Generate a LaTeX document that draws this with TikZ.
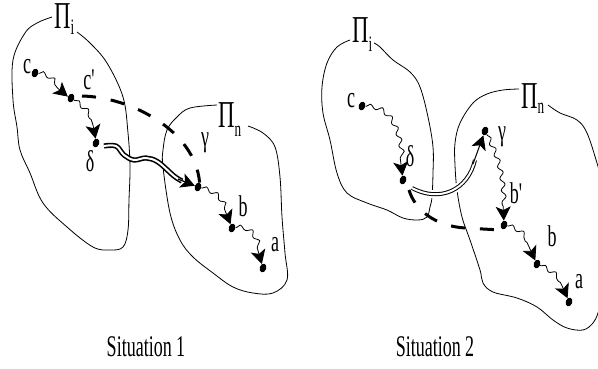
\documentclass[tikz,border=0pt]{standalone}
\usepackage{fontspec}
\setmainfont{Liberation Serif}[FakeStretch=0.6]
\usetikzlibrary{arrows.meta,decorations.pathmorphing,shapes.geometric}
\tikzset{
  arrhd/.style={-{Stealth[length=14pt,width=15pt,inset=3.5pt]}},
}
\begin{document}
\begin{tikzpicture}[x=1pt,y=-1pt,
  blob/.style={line width=0.8pt},
  dotn/.style={ellipse, fill, inner sep=0pt, minimum width=6.5pt, minimum height=9pt},
  wavy/.style={line width=0.8pt, arrhd, decorate,
    decoration={snake, amplitude=2.2pt, segment length=12pt, pre length=1pt, post length=14pt}},
  dashline/.style={line width=3pt, dash pattern=on 14pt off 15pt},
  dbla/.style={double, double distance=2pt, line width=1.6pt},
  dblb/.style={double, double distance=2pt, line width=1pt},
  lab/.style={font=\fontsize{30}{30}\selectfont, inner sep=0pt},
  pilab/.style={font=\fontsize{38}{38}\selectfont, inner sep=0pt, anchor=base west, text height=26pt, text depth=9pt},
  sit/.style={font=\fontsize{30}{30}\selectfont, inner sep=0pt}]
\useasboundingbox (0,0) rectangle (598,368);
\begin{scope}
\clip (0,0) rectangle (598,368);
% ---------------- Situation 1 blobs
\draw[blob] plot[smooth, tension=0.6] coordinates {(52,17) (37,23) (25,33) (13,60) (13,100) (17,127) (20,150) (30,173) (43,203) (67,227) (93,247) (110,250) (123,247) (128,230) (129,200) (130,167) (128,133) (123,97) (107,63) (90,43) (77,32)};
\draw[blob] plot[smooth, tension=0.6] coordinates {(217,105) (190,108) (177,117) (167,130) (163,150) (163,167) (170,213) (180,240) (193,257) (213,273) (233,287) (253,293) (273,293) (287,280) (285,253) (282,217) (280,177) (275,147) (263,133) (248,126)};
% ---------------- Situation 2 blobs
\draw[blob] plot[smooth, tension=0.6] coordinates {(350,40) (337,47) (327,63) (322,87) (323,113) (330,140) (337,173) (347,193) (367,203) (387,210) (403,218) (418,220) (427,217) (430,207) (432,197) (433,173) (433,147) (428,117) (420,87) (410,72) (393,60) (380,47) (374,43)};
\draw[blob] plot[smooth, tension=0.6] coordinates {(519,89) (503,90) (487,94) (473,103) (460,123) (455,143) (455,165) (457,190) (462,217) (470,240) (480,270) (483,283) (493,292) (517,298) (537,307) (553,320) (567,328) (583,330) (593,323) (598,313) (603,295)};
\draw[blob] plot[smooth, tension=0.6] coordinates {(548,105) (560,113) (577,120) (587,133) (597,163) (603,185)};
\end{scope}
% ---------------- labels Pi
\node[pilab] (pi1) at (54,28.5) {Π\raisebox{-6pt}{\fontsize{22}{22}\selectfont i}};
\node[pilab] (pn1) at (218,127) {Π\raisebox{-9pt}{\fontsize{22}{22}\selectfont n}};
\node[pilab] (pi2) at (352,42) {Π\raisebox{-9pt}{\fontsize{22}{22}\selectfont i}};
\node[pilab] (pn2) at (521,108) {Π\raisebox{-5pt}{\fontsize{22}{22}\selectfont n}};
% ---------------- dots S1
\node[dotn, rotate=-20] (c1) at (35,73) {};
\node[dotn, rotate=-20] (cp1) at (71,98) {};
\node[dotn, rotate=-20] (d1) at (96,143) {};
\node[dotn, rotate=-20] (g1) at (198,187) {};
\node[dotn, rotate=-20] (b1) at (232,228) {};
\node[dotn, rotate=-20] (a1) at (263,268) {};
% ---------------- dots S2
\node[dotn, rotate=-20] (c2) at (362,106) {};
\node[dotn, rotate=-20] (d2) at (403,180) {};
\node[dotn, rotate=-20] (g2) at (485,131) {};
\node[dotn, rotate=-20] (bp2) at (504,225) {};
\node[dotn, rotate=-20] (b2) at (537,264) {};
\node[dotn, rotate=-20] (a2) at (569,302) {};
% ---------------- text labels
\node[lab] (lc1) at (27,67) {c};
\node[lab] (lcp1) at (90,80) {c\textquotesingle};
\node[lab] (ld1) at (90,161) {δ};
\node[lab] (lg1) at (205,143) {γ};
\node[lab] (lb1) at (243,206) {b};
\node[lab] (la1) at (275,245) {a};
\node[lab] (lc2) at (351,101) {c};
\node[lab] (ld2) at (410,156) {δ};
\node[lab] (lg2) at (502,137) {γ};
\node[lab] (lbp2) at (517,193) {b\textquotesingle};
\node[lab] (lb2) at (552,236) {b};
\node[lab] (la2) at (579,282) {a};
\node[sit] (s1) at (146,347) {Situation 1};
\node[sit] (s2) at (435,347) {Situation 2};
% ---------------- Situation 1 connectors
\draw[dbla] plot[smooth, tension=0.6] coordinates {(104,146) (116,146) (124,155) (134,160) (146,158) (158,162) (174,176) (182,181)};
\draw[line width=1.2pt, arrhd] (178,179) -- (g1);
\draw[dashline] (82,96) .. controls (130,97) and (195,130) .. (g1.north);
\draw[wavy] (c1) to[out=0, in=160] (cp1);
\draw[wavy] (cp1) to[out=-30, in=100] (d1);
\draw[wavy] (g1) to[out=-10, in=115] (b1);
\draw[wavy] (b1) to[out=10, in=110] (a1);
% ---------------- Situation 2 connectors
\draw[dblb, preaction={draw=white, line width=8pt}] (412,188) .. controls (440,203) and (468,190) .. (475,160);
\draw[line width=1pt, arrhd] (473,164) -- (g2);
\draw[dashline] (409,190) .. controls (415,210) and (435,226) .. (465,228) -- (501,230) -- (bp2.south);
\draw[wavy] (c2) to[out=0, in=100] (d2);
\draw[wavy] (g2) to[out=-60, in=95] (bp2);
\draw[wavy] (bp2) to[out=-10, in=120] (b2);
\draw[wavy] (b2) to[out=-20, in=115] (a2);
\end{tikzpicture}
\end{document}
